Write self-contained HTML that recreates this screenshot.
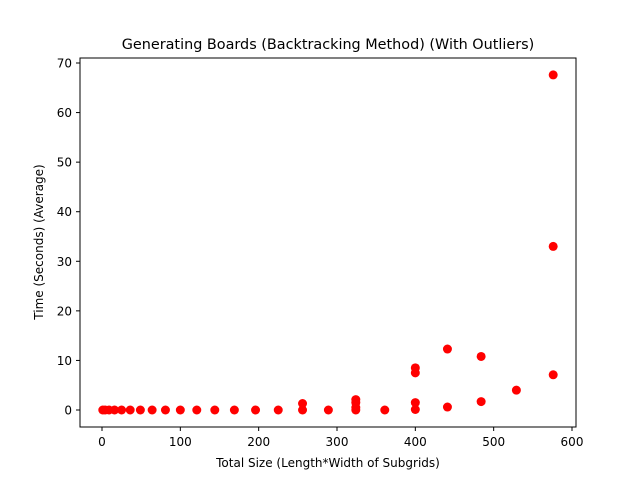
<!DOCTYPE html>
<html><head><meta charset="utf-8"><style>
body{margin:0;background:#fff;}
svg{display:block;font-family:"DejaVu Sans","Liberation Sans",sans-serif;}
</style></head><body>
<svg id="chart" width="640" height="480">
<rect width="640" height="480" fill="#fff"/>
<text x="328" y="49" font-size="14.4" text-anchor="middle">Generating Boards (Backtracking Method) (With Outliers)</text>
<g id="points"></g>
<rect x="80" y="58" width="496" height="369" fill="none" stroke="#000" stroke-width="1"/>
<g id="xt"></g>
<g id="yt"></g>
<text x="328" y="467" font-size="12" text-anchor="middle">Total Size (Length*Width of Subgrids)</text>
<text transform="translate(43,242) rotate(-90)" font-size="12" text-anchor="middle">Time (Seconds) (Average)</text>
</svg>
<script>
const xs=[1,4,9,16,25,36,49,64,81,100,121,144,169,196,225,256,256,289,324,324,324,324,361,400,400,400,400,441,441,484,484,529,576,576,576];
const ys=[0,0,0,0,0,0,0,0,0,0,0,0,0,0,0,0,1.3,0,0,0.5,1.5,2.1,0,0.1,1.5,7.5,8.5,0.6,12.3,1.7,10.8,4.0,7.1,33,67.6];
const xTicks=[0,100,200,300,400,500,600];
const yTicks=[0,10,20,30,40,50,60,70];
const NS="http://www.w3.org/2000/svg";
const X=v=>102+v*(572-102)/600;
const Y=v=>410-v*(410-63)/70;
const pg=document.getElementById('points');
for(let i=0;i<xs.length;i++){
 const c=document.createElementNS(NS,'circle');
 c.setAttribute('cx',X(xs[i]));c.setAttribute('cy',Y(ys[i]));c.setAttribute('r',4.5);c.setAttribute('fill','#ff0000');
 
 
 pg.appendChild(c);
}
const xg=document.getElementById('xt');
xTicks.forEach(t=>{
 const l=document.createElementNS(NS,'line');
 l.setAttribute('x1',X(t));l.setAttribute('x2',X(t));l.setAttribute('y1',427);l.setAttribute('y2',431);l.setAttribute('stroke','#000');
 
 
 xg.appendChild(l);
 const s=document.createElementNS(NS,'text');
 s.setAttribute('x',X(t));s.setAttribute('y',446);s.setAttribute('font-size','12');s.setAttribute('text-anchor','middle');s.textContent=t;
 
 
 xg.appendChild(s);
});
const yg=document.getElementById('yt');
yTicks.forEach(t=>{
 const l=document.createElementNS(NS,'line');
 l.setAttribute('x1',76);l.setAttribute('x2',80);l.setAttribute('y1',Y(t));l.setAttribute('y2',Y(t));l.setAttribute('stroke','#000');
 
 
 yg.appendChild(l);
 const s=document.createElementNS(NS,'text');
 s.setAttribute('x',72);s.setAttribute('y',Y(t)+4.5);s.setAttribute('font-size','12');s.setAttribute('text-anchor','end');s.textContent=t;
 
 
 yg.appendChild(s);
});
</script>
</body></html>
